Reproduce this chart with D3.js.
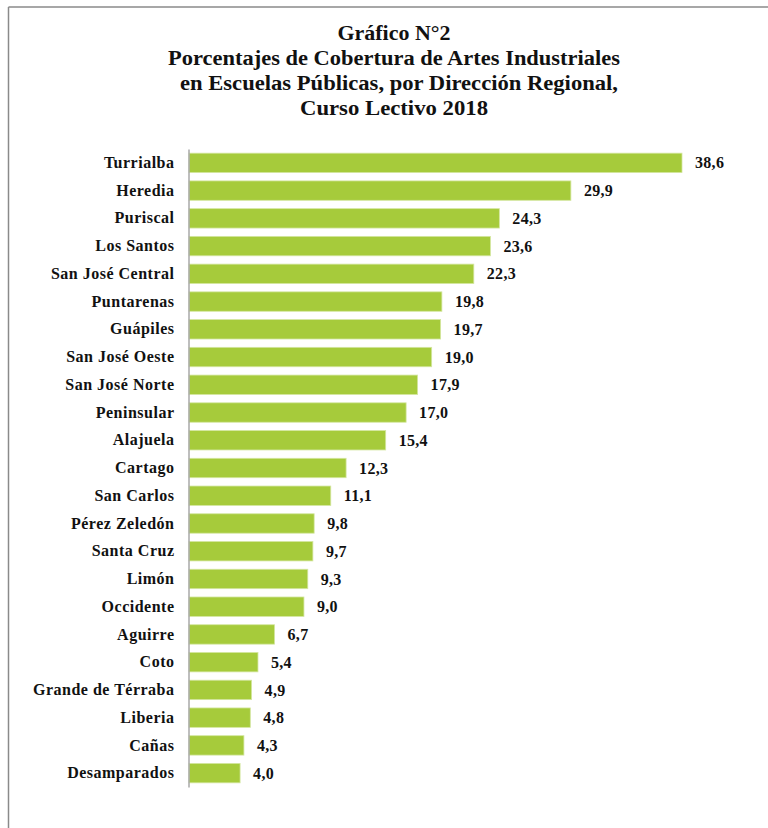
<!DOCTYPE html>
<html><head><meta charset="utf-8">
<script src="https://cdn.jsdelivr.net/npm/d3@7"></script>
<style>body{margin:0;background:#fff}svg{display:block}</style>
</head><body>
<svg id="c" width="768" height="828"></svg>
<script>
const categories = ["Turrialba","Heredia","Puriscal","Los Santos","San José Central","Puntarenas","Guápiles","San José Oeste","San José Norte","Peninsular","Alajuela","Cartago","San Carlos","Pérez Zeledón","Santa Cruz","Limón","Occidente","Aguirre","Coto","Grande de Térraba","Liberia","Cañas","Desamparados"];
const values = [38.6,29.9,24.3,23.6,22.3,19.8,19.7,19.0,17.9,17.0,15.4,12.3,11.1,9.8,9.7,9.3,9.0,6.7,5.4,4.9,4.8,4.3,4.0];
const titleLines = ["Gráfico N°2","Porcentajes de Cobertura de Artes Industriales","en Escuelas Públicas, por Dirección Regional,","Curso Lectivo 2018"];

const svg = d3.select("#c");
const font = "'Liberation Serif','Times New Roman',serif";

// frame
svg.append("line").attr("x1",8.5).attr("x2",768).attr("y1",7).attr("y2",7).attr("stroke","#8a8a8a").attr("stroke-width",1.5);
svg.append("line").attr("x1",8.5).attr("x2",8.5).attr("y1",7).attr("y2",828).attr("stroke","#8a8a8a").attr("stroke-width",1.5);

// title
const tY = [40,65,90,115];
const tW = [113,452,438,188];
const tX = [394,394,399,394];
titleLines.forEach((t,i)=>{
  svg.append("text").attr("x",tX[i]).attr("y",tY[i]).attr("text-anchor","middle")
    .attr("font-family",font).attr("font-weight","bold").attr("font-size",20).attr("fill","#111")
    .attr("textLength",tW[i]).attr("lengthAdjust","spacingAndGlyphs").text(t);
});

const x = d3.scaleLinear().domain([0,38.6]).range([189,682]);
const y = d3.scaleBand().domain(categories).range([149,787]).paddingInner(0.3).paddingOuter(0.15);

svg.append("g").selectAll("rect").data(categories).join("rect")
  .attr("x",x(0)).attr("y",d=>y(d)).attr("width",(d,i)=>x(values[i])-x(0)).attr("height",y.bandwidth())
  .attr("fill","#a6cb3b").attr("stroke","#d4e6a0").attr("stroke-width",0.8);

// axis
const ax = svg.append("g").attr("transform",`translate(188.5,0)`).call(d3.axisLeft(y).tickSize(0).tickPadding(14));
ax.select(".domain").attr("stroke","#a8a8a8").attr("stroke-width",1.5);
ax.selectAll("text").attr("font-family",font).attr("font-weight","bold").attr("font-size",16).attr("letter-spacing","0.5px").attr("fill","#111");

svg.append("g").selectAll("text").data(categories).join("text")
  .attr("x",(d,i)=>x(values[i])+13).attr("y",d=>y(d)+y.bandwidth()/2).attr("dy","0.35em")
  .attr("font-family",font).attr("font-weight","bold").attr("font-size",16).attr("letter-spacing","0.3px").attr("fill","#111")
  .text((d,i)=>values[i].toFixed(1).replace(".",","));
</script>
</body></html>
